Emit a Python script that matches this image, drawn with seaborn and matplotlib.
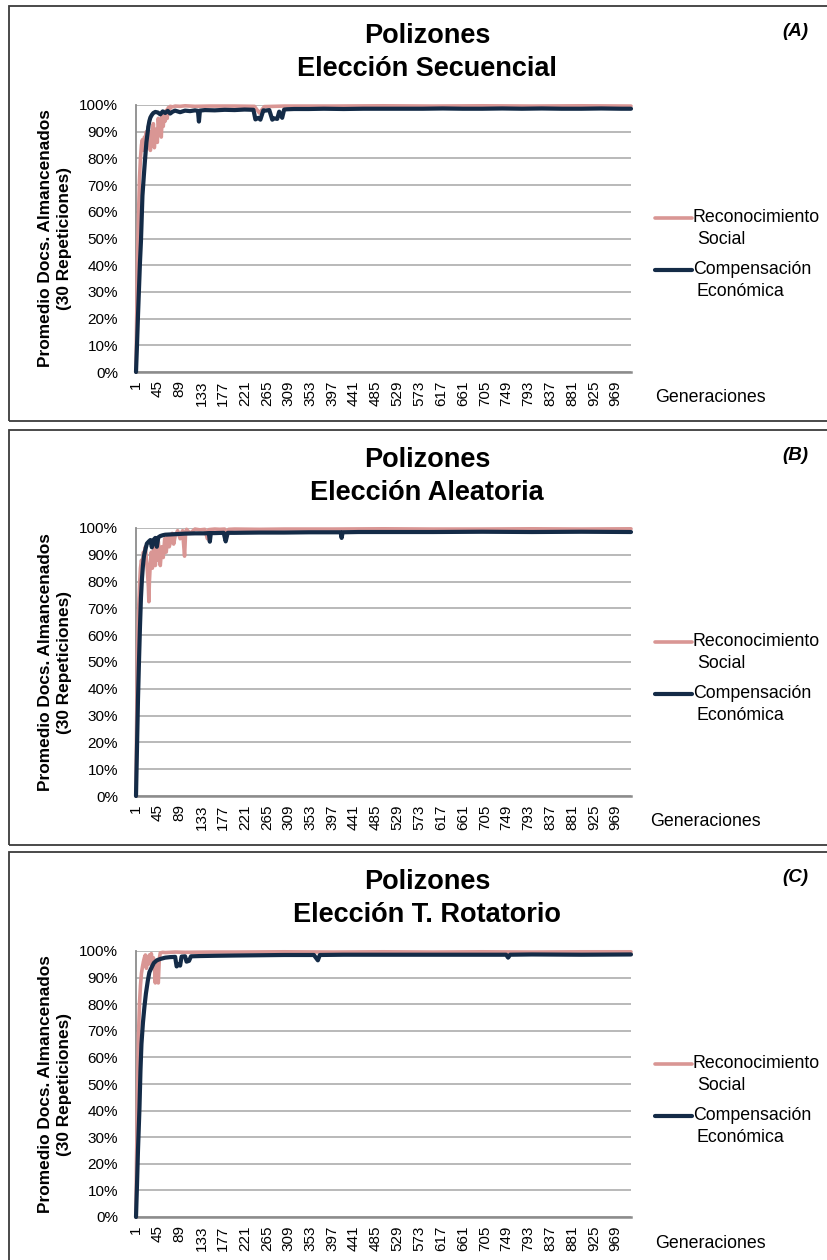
import matplotlib
matplotlib.use("Agg")
import matplotlib.pyplot as plt
import seaborn as sns
import pandas as pd
from matplotlib.patches import Rectangle
from matplotlib.lines import Line2D

# ---------------- data (generation, % documents stored) ----------------
a_social = [(1, 0), (2, 15), (4, 41), (6, 58), (8, 72), (10, 80), (12, 85), (14, 87), (16, 83), (18, 88),
            (20, 87), (22, 90), (24, 85), (26, 92), (28, 88), (30, 83), (32, 90), (34, 86), (36, 93), (38, 84),
            (40, 89), (42, 91), (44, 86), (46, 95), (48, 90), (50, 93), (52, 88), (54, 96), (56, 92), (58, 97),
            (60, 94), (62, 98), (64, 95), (66, 99), (68, 97), (70, 99.5), (75, 99.3), (80, 99.6), (90, 99.5),
            (100, 99.7), (120, 99.5), (150, 99.6), (200, 99.6), (240, 99.5), (250, 97), (260, 99.4), (300, 99.6),
            (400, 99.6), (500, 99.7), (600, 99.6), (700, 99.7), (800, 99.6), (900, 99.7), (1000, 99.6)]
a_eco = [(1, 0), (3, 10), (5, 21), (7, 31), (9, 41), (11, 49), (14, 66), (17, 74), (19, 79), (22, 86),
         (24, 89), (26, 92), (28, 94), (30, 95.3), (33, 96.3), (36, 97), (40, 97.4), (45, 97.2), (50, 96.5),
         (55, 97.6), (60, 97), (65, 97.8), (70, 96.8), (75, 97.5), (80, 97.9), (90, 97.3), (100, 97.9),
         (110, 97.7), (120, 98), (126, 97.8), (128, 93.8), (130, 97.9), (140, 98.1), (160, 98), (180, 98.2),
         (200, 98.1), (220, 98.3), (238, 98.2), (242, 94.6), (248, 95.2), (252, 94.5), (258, 98), (262, 97.9),
         (270, 98.1), (276, 94.5), (280, 95), (286, 94.8), (290, 97.5), (296, 95.2), (300, 98.3), (306, 98.4),
         (320, 98.5), (350, 98.5), (380, 98.6), (420, 98.5), (460, 98.6), (500, 98.6), (540, 98.6),
         (580, 98.6), (620, 98.7), (660, 98.6), (700, 98.6), (740, 98.7), (780, 98.6), (820, 98.7),
         (860, 98.6), (900, 98.6), (940, 98.7), (980, 98.6), (1000, 98.6)]

b_social = [(1, 0), (2, 22), (4, 54), (6, 68), (8, 78), (10, 85), (12, 88), (14, 86), (16, 91), (18, 89),
            (20, 93), (22, 88), (24, 84), (26, 78), (27, 72.5), (28, 80), (30, 87), (32, 91), (34, 85), (36, 90),
            (38, 94), (40, 86), (42, 91), (44, 88), (46, 95), (48, 90), (50, 86), (53, 93), (56, 89), (59, 96),
            (62, 91), (65, 97), (68, 93), (71, 95), (74, 98), (77, 94), (80, 97), (85, 99), (90, 96), (95, 99),
            (99, 89.5), (101, 98), (103, 99.5), (110, 98), (120, 99.6), (130, 99.3), (140, 99.5), (145, 96),
            (148, 99.4), (160, 99.6), (170, 99.5), (180, 99.6), (185, 97), (188, 99.5), (200, 99.6), (250, 99.5),
            (300, 99.6), (400, 99.6), (500, 99.7), (600, 99.6), (700, 99.6), (800, 99.7), (900, 99.6), (1000, 99.7)]
b_eco = [(1, 0), (3, 18), (5, 36), (7, 50), (9, 63), (11, 74), (13, 81), (15, 86), (17, 89.5), (20, 92),
         (23, 94.2), (27, 95), (30, 95.5), (33, 92.8), (36, 95.5), (40, 96.3), (43, 93), (46, 96.5), (50, 97),
         (55, 97.3), (60, 97.5), (70, 97.6), (80, 97.7), (100, 97.9), (120, 98), (140, 98), (148, 98.1),
         (150, 94.9), (152, 98.1), (160, 98.1), (178, 98.2), (182, 95), (186, 98.2), (200, 98.2), (250, 98.3),
         (300, 98.3), (350, 98.4), (400, 98.4), (414, 98.4), (416, 96.3), (418, 98.4), (450, 98.5), (500, 98.5),
         (600, 98.5), (700, 98.6), (800, 98.5), (900, 98.6), (1000, 98.5)]

c_social = [(1, 0), (2, 20), (4, 45), (6, 68), (8, 80), (10, 87), (12, 91.6), (14, 94), (16, 96), (18, 97.5),
            (20, 98.5), (22, 93.5), (24, 97), (26, 95), (28, 98.5), (30, 96), (32, 99), (34, 94), (36, 97.5),
            (38, 95), (40, 88), (42, 96), (44, 91), (46, 88), (48, 97), (50, 99.3), (55, 99.5), (60, 99.4),
            (80, 99.6), (100, 99.5), (150, 99.6), (200, 99.6), (300, 99.7), (400, 99.6), (500, 99.7),
            (600, 99.6), (700, 99.7), (800, 99.6), (900, 99.7), (1000, 99.7)]
c_eco = [(1, 0), (3, 12), (5, 25), (8, 41), (10, 55), (12, 65), (15, 73), (18, 79), (21, 84), (25, 89),
         (28, 92), (33, 94), (37, 95.5), (43, 96.5), (50, 97), (60, 97.5), (70, 97.7), (80, 97.8), (83, 94.2),
         (86, 95), (90, 94.5), (93, 97.9), (100, 98), (103, 96), (108, 96.3), (112, 98), (130, 98.1),
         (160, 98.2), (200, 98.3), (250, 98.4), (300, 98.5), (360, 98.5), (368, 96.5), (372, 98.5),
         (420, 98.6), (500, 98.6), (600, 98.6), (700, 98.6), (748, 98.6), (752, 97.5), (756, 98.6),
         (800, 98.7), (900, 98.6), (1000, 98.7)]

subtitles = ["Elección Secuencial", "Elección Aleatoria", "Elección T. Rotatorio"]
letters = ["(A)", "(B)", "(C)"]
series_names = ["Reconocimiento\nSocial", "Compensación\nEconómica"]
x_ticks = list(range(1, 1000, 44))
y_ticks = list(range(0, 101, 10))

PINK = "#D99694"
NAVY = "#142B47"

# ---------------- figure ----------------
sns.set_theme(style="white")
plt.rcParams["font.family"] = ["Liberation Sans", "DejaVu Sans"]
plt.rcParams["text.color"] = "black"
plt.rcParams["xtick.color"] = "black"
plt.rcParams["ytick.color"] = "black"
plt.rcParams["axes.labelcolor"] = "black"

W, H = 828, 1260
fig = plt.figure(figsize=(W / 100, H / 100), dpi=100)


def fx(px):
    return px / W


def fy(py):
    return 1 - py / H


panel_data = [(a_social, a_eco), (b_social, b_eco), (c_social, c_eco)]
box_top = [6, 430, 852]
ax_top = [105, 528, 951]
ax_bot = [372, 796, 1217]
gen_x = [655, 650, 655]

for i in range(3):
    off = box_top[i] - 6
    # panel frame
    fig.add_artist(Rectangle((fx(9), fy(box_top[i] + 415)), fx(830), 415 / H,
                             transform=fig.transFigure, fill=False,
                             edgecolor="#3C3C3C", linewidth=1.3))
    ax = fig.add_axes([fx(136), fy(ax_bot[i]), fx(631 - 136), (ax_bot[i] - ax_top[i]) / H])
    soc, eco = panel_data[i]
    df_s = pd.DataFrame(soc, columns=["gen", "val"])
    df_e = pd.DataFrame(eco, columns=["gen", "val"])
    sns.lineplot(data=df_s, x="gen", y="val", ax=ax, color=PINK, linewidth=2.6,
                 legend=False, clip_on=False, zorder=3)
    sns.lineplot(data=df_e, x="gen", y="val", ax=ax, color=NAVY, linewidth=3.0,
                 legend=False, clip_on=False, zorder=4)
    ax.set_xlim(1, 1000)
    ax.set_ylim(0, 100)
    ax.set_xticks(x_ticks)
    ax.set_xticklabels([str(t) for t in x_ticks], rotation=90, fontsize=11)
    ax.set_yticks(y_ticks)
    ax.set_yticklabels([f"{t}%" for t in y_ticks], fontsize=11)
    ax.tick_params(axis="both", length=0, colors="black")
    ax.tick_params(axis="y", pad=13)
    ax.tick_params(axis="x", pad=6)
    ax.grid(axis="y", color="#A6A6A6", linewidth=1.1)
    ax.grid(axis="x", visible=False)
    for s in ["top", "right"]:
        ax.spines[s].set_visible(False)
    ax.spines["left"].set_color("#8C8C8C")
    ax.spines["left"].set_linewidth(1.3)
    ax.spines["bottom"].set_color("#8C8C8C")
    ax.spines["bottom"].set_linewidth(1.8)
    ax.set_xlabel("")
    ax.set_ylabel("")
    ax.set_facecolor("white")

    # titles
    fig.text(fx(427), fy(36 + off), "Polizones", ha="center", va="center",
             fontsize=19.5, fontweight="bold")
    fig.text(fx(427), fy(69 + off), subtitles[i], ha="center", va="center",
             fontsize=19.5, fontweight="bold")
    fig.text(fx(795), fy(31 + off), letters[i], ha="center", va="center",
             fontsize=13.5, fontweight="bold", fontstyle="italic")
    # y label
    mid = (ax_top[i] + ax_bot[i]) / 2
    fig.text(fx(55), fy(mid), "Promedio Docs. Almancenados\n(30 Repeticiones)",
             rotation=90, ha="center", va="center", multialignment="center",
             fontsize=12.4, fontweight="bold", linespacing=1.3)
    # x label
    fig.text(fx(gen_x[i]), fy(ax_bot[i] + 26), "Generaciones", ha="left", va="center",
             fontsize=12.8)
    # legend
    ly = [218 + off, 270 + off]
    for j, col in enumerate([PINK, NAVY]):
        fig.add_artist(Line2D([fx(655), fx(692)], [fy(ly[j]), fy(ly[j])],
                              transform=fig.transFigure, color=col,
                              linewidth=2.6 if j == 0 else 3.0))
        first, second = series_names[j].split("\n")
        fig.text(fx(693), fy(ly[j]), first, ha="left", va="center", fontsize=12.8)
        fig.text(fx(697), fy(ly[j] + 21), second, ha="left", va="center", fontsize=12.8)

fig.savefig("out.png", dpi=100, facecolor="white")
